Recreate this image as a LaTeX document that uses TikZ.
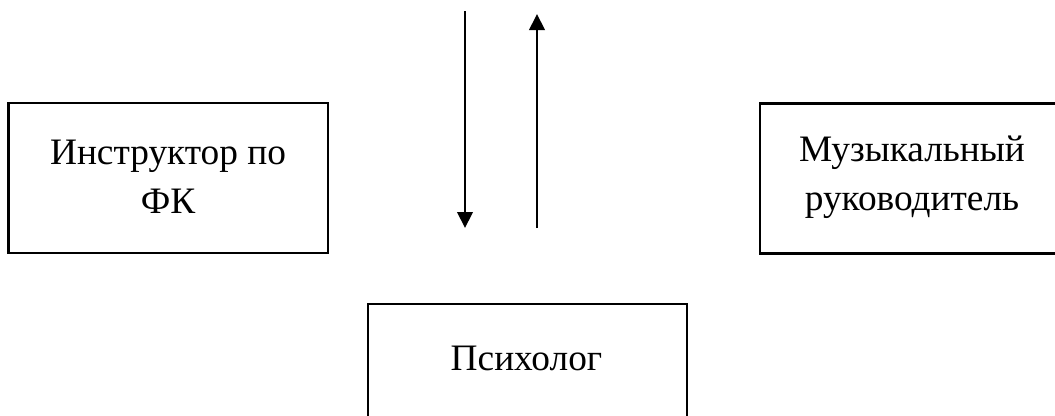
\documentclass[tikz,border=0pt]{standalone}
\usepackage{fontspec}
\setmainfont{LiberationSerif}[Extension=.ttf,UprightFont=*-Regular,BoldFont=*-Bold]
\usetikzlibrary{arrows.meta}
\begin{document}
\begin{tikzpicture}[x=0.75pt,y=-0.75pt,
  box/.style={draw=black,line width=2.2pt,fill=white,inner sep=0pt},
  lbl/.style={font=\fontsize{28pt}{36.75pt}\selectfont,align=center,inner sep=0pt},
  conn/.style={line width=2.1pt,-{Triangle[length=12pt,width=11.5pt]}}]
\useasboundingbox (0,0) rectangle (1055,415);
\clip (0,0) rectangle (1055,415);
\node[box,minimum width=319.5*0.75pt,minimum height=150*0.75pt] (instr) at (168.25,178) {};
\node[lbl] (instrt) at (168,177) {Инструктор по\\ФК};
\node[box,minimum width=306*0.75pt,minimum height=150*0.75pt] (music) at (913,178.5) {};
\node[lbl] (musict) at (912,177) {Музыкальный\\руководитель};
\node[box,minimum width=319*0.75pt,minimum height=140*0.75pt] (psy) at (527.5,374) {};
\node[lbl,anchor=base] (psyt) at (526.5,370) {Психолог};
\coordinate (d1) at (465,11);
\coordinate (d2) at (465,228);
\coordinate (u1) at (537,228);
\coordinate (u2) at (537,14);
\draw[conn] (d1) -- (d2);
\draw[conn] (u1) -- (u2);
\end{tikzpicture}
\end{document}
